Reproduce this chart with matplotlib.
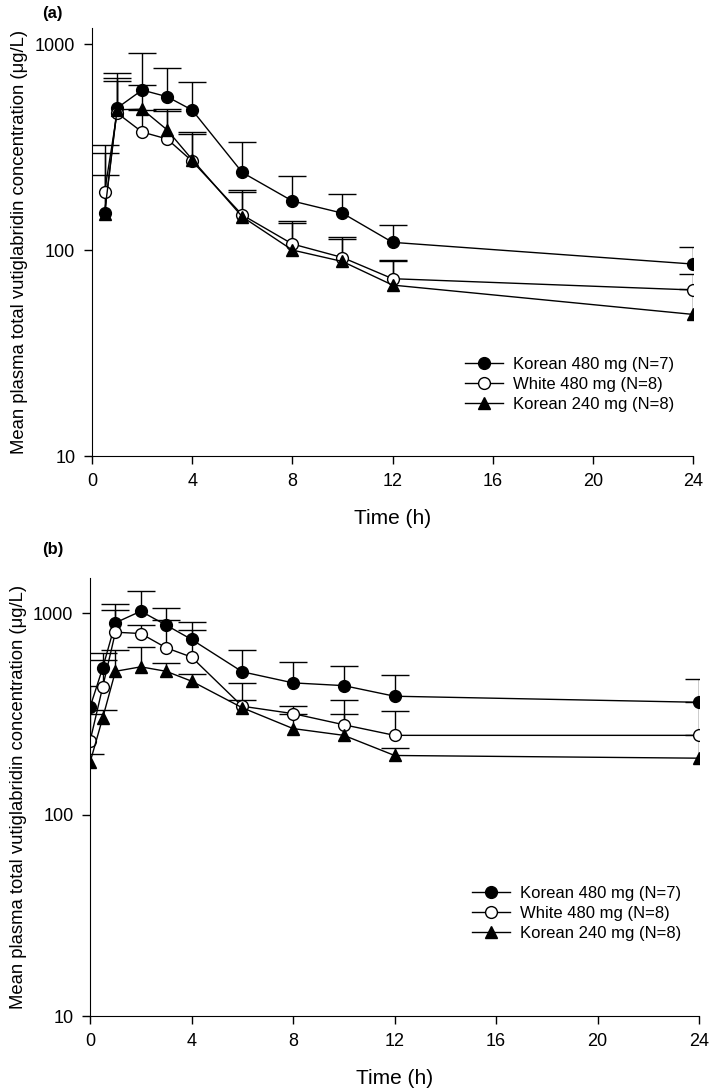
import numpy as np
import matplotlib.pyplot as plt

plt.rcParams['font.family'] = ['Liberation Sans', 'DejaVu Sans']

# panel (a)
time_a = [0.5, 1, 2, 3, 4, 6, 8, 10, 12, 24]
k480_a = [151, 489, 598, 555, 478, 238, 173, 151, 109, 85.5]
k480_a_up = [296, 723, 904, 767, 654, 333, 229, 187, 132, 104]
w480_a = [191, 463, 374, 346, 270, 148, 107, 92, 72.6, 64]
w480_a_up = [324, 684, 480, 473, 375, 195, 138, 116, 89, 76.4]
k240_a = [150, 480, 483, 383, 275, 145, 100, 88, 67.6, 48.7]
k240_a_up = [231, 661, 632, 482, 366, 192, 136, 113, 88, 65]

# panel (b)
time_b = [0, 0.5, 1, 2, 3, 4, 6, 8, 10, 12, 24]
k480_b = [342, 537, 899, 1026, 875, 743, 513, 452, 438, 388, 362]
k480_b_up = [435, 637, 1109, 1291, 1067, 905, 662, 575, 547, 492, 470]
w480_b = [232, 432, 807, 795, 675, 607, 346, 318, 280, 248, 248]
w480_b_up = [318, 590, 1046, 880, 933, 823, 452, 346, 373, 327, 362]
k240_b = [182, 303, 516, 543, 516, 461, 340, 268, 248, 197, 191]
k240_b_up = [200, 330, 662, 680, 565, 500, 370, 318, 317, 215, 248]

labels = ['Korean 480 mg (N=7)', 'White 480 mg (N=8)', 'Korean 240 mg (N=8)']
xticks = [0, 4, 8, 12, 16, 20, 24]
ylabel = 'Mean plasma total vutiglabridin concentration (\u03bcg/L)'

fig = plt.figure(figsize=(7.09, 10.91), dpi=100)
ax_a = fig.add_axes([0.1298, 0.5820, 0.8477, 0.3923])
ax_b = fig.add_axes([0.1270, 0.0687, 0.8590, 0.4015])

styles = [dict(marker='o', mfc='black'), dict(marker='o', mfc='white'), dict(marker='^', mfc='black')]


def draw(ax, t, series, ytop):
    handles = []
    for (mean, up), st, lab in zip(series, styles, labels):
        mean = np.array(mean)
        up = np.array(up)
        err = [np.zeros_like(mean), up - mean]
        line, caps, bars = ax.errorbar(t, mean, yerr=err, color='black', lw=1.0, elinewidth=1.0,
                                       capsize=10, capthick=1.0, marker=st['marker'], mfc=st['mfc'],
                                       mec='black', ms=8.5, mew=1.0)
        caps[0].set_visible(False)
        line.set_label(lab)
        handles.append(line)
    ax.set_yscale('log')
    ax.set_ylim(10, ytop)
    ax.set_xlim(0, 24)
    ax.set_xticks(xticks)
    ax.set_yticks([10, 100, 1000])
    ax.set_yticklabels(['10', '100', '1000'])
    ax.minorticks_off()
    ax.tick_params(labelsize=13, length=6, width=1, pad=6)
    for s in ['top', 'right']:
        ax.spines[s].set_visible(False)
    ax.set_xlabel('Time (h)', fontsize=15, labelpad=14)
    ax.set_ylabel(ylabel, fontsize=13.3)
    return handles


h = draw(ax_a, time_a, [(k480_a, k480_a_up), (w480_a, w480_a_up), (k240_a, k240_a_up)], 1196)
ax_a.yaxis.set_label_coords(-0.106, 0.5)
ax_a.legend(handles=h, loc='center left', bbox_to_anchor=(0.62, 0.168), frameon=False, fontsize=12,
            handlelength=2.3, handletextpad=0.6, labelspacing=0.3, borderpad=0, borderaxespad=0)
h = draw(ax_b, time_b, [(k480_b, k480_b_up), (w480_b, w480_b_up), (k240_b, k240_b_up)], 1500)
ax_b.yaxis.set_label_coords(-0.103, 0.5)
ax_b.legend(handles=h, loc='center left', bbox_to_anchor=(0.627, 0.235), frameon=False, fontsize=12,
            handlelength=2.3, handletextpad=0.6, labelspacing=0.3, borderpad=0, borderaxespad=0)

fig.text(0.059, 0.988, '(a)', fontsize=12, fontweight='bold', va='center')
fig.text(0.059, 0.496, '(b)', fontsize=12, fontweight='bold', va='center')

fig.savefig('out.png', dpi=100)
